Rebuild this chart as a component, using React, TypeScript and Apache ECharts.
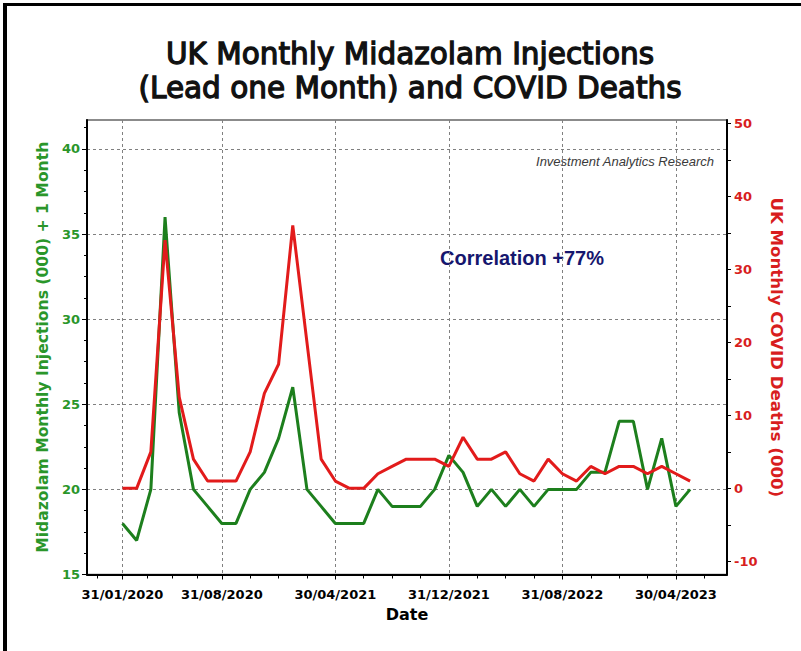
import React, { useEffect, useRef } from "react";
import * as echarts from "echarts";

// Month-end dates, Jan 2020 .. May 2023
const monthEnds: string[] = [
  "31/01/2020", "29/02/2020", "31/03/2020", "30/04/2020", "31/05/2020", "30/06/2020",
  "31/07/2020", "31/08/2020", "30/09/2020", "31/10/2020", "30/11/2020", "31/12/2020",
  "31/01/2021", "28/02/2021", "31/03/2021", "30/04/2021", "31/05/2021", "30/06/2021",
  "31/07/2021", "31/08/2021", "30/09/2021", "31/10/2021", "30/11/2021", "31/12/2021",
  "31/01/2022", "28/02/2022", "31/03/2022", "30/04/2022", "31/05/2022", "30/06/2022",
  "31/07/2022", "31/08/2022", "30/09/2022", "31/10/2022", "30/11/2022", "31/12/2022",
  "31/01/2023", "28/02/2023", "31/03/2023", "30/04/2023", "31/05/2023",
];

// Midazolam injections (000), lead one month
const midazolam: number[] = [
  18, 17, 20, 36, 24.5, 20, 19, 18, 18, 20, 21, 23,
  26, 20, 19, 18, 18, 18, 20, 19, 19, 19, 20, 22,
  21, 19, 20, 19, 20, 19, 20, 20, 20, 21, 21, 24,
  24, 20, 23, 19, 20,
];

// UK monthly COVID deaths (000)
const covidDeaths: number[] = [
  0, 0, 5, 34, 12.5, 4, 1, 1, 1, 5, 13, 17,
  36, 20, 4, 1, 0, 0, 2, 3, 4, 4, 4, 3,
  7, 4, 4, 5, 2, 1, 4, 2, 1, 3, 2, 3,
  3, 2, 3, 2, 1,
];

// Labelled dates (indices into monthEnds)
const xLabelIdx: number[] = [0, 7, 15, 23, 31, 39];
const xMinorIdx: number[] = [-1.75, 1.75, 3.5, 5.25, 9, 11, 13, 17, 19, 21, 25, 27, 29, 33, 35, 37, 41];
const leftTicks: number[] = [15, 20, 25, 30, 35, 40];
const rightLabels: number[] = [-10, 0, 10, 20, 30, 40, 50];
const rightTicks: number[] = [-10, -5, 0, 5, 10, 15, 20, 25, 30, 35, 40, 45, 50];

const GREEN_LINE = "#1d7f1d";
const GREEN_TEXT = "#2a962a";
const RED_LINE = "#e21b1b";
const RED_TEXT = "#d81e1e";

export default function App() {
  const ref = useRef<HTMLDivElement>(null);

  useEffect(() => {
    if (!ref.current) return;
    const chart = echarts.init(ref.current, null, { renderer: "svg" });
    const gridDash = { color: "#808080", width: 1, type: [3, 3] as any };

    chart.setOption({
      animation: false,
      backgroundColor: "#ffffff",
      grid: {
        left: 87,
        right: 74,
        top: 120,
        bottom: 76.5,
        containLabel: false,
        outerBoundsMode: "none",
        show: true,
        borderColor: "#666",
        borderWidth: 1.5,
      },
      graphic: [
        { type: "rect", shape: { x: 4, y: 3, width: 797, height: 3 }, style: { fill: "#000" } },
        { type: "rect", shape: { x: 3, y: 3, width: 4, height: 648 }, style: { fill: "#000" } },
        {
          type: "text",
          x: 410,
          y: 37,
          style: {
            text: "UK Monthly Midazolam Injections\n(Lead one Month) and COVID Deaths",
            textAlign: "center",
            textVerticalAlign: "top",
            fontFamily: "DejaVu Sans",
            fontSize: 29.5,
            lineHeight: 34,
            fill: "#111",
            stroke: "#111",
            lineWidth: 1.3,
          },
        },
        {
          type: "text",
          x: 714,
          y: 161,
          style: {
            text: "Investment Analytics Research",
            textAlign: "right",
            textVerticalAlign: "middle",
            fontFamily: "Liberation Sans",
            fontStyle: "italic",
            fontSize: 13,
            fill: "#3a3a3a",
          },
        },
        {
          type: "text",
          x: 522,
          y: 258,
          style: {
            text: "Correlation +77%",
            textAlign: "center",
            textVerticalAlign: "middle",
            fontFamily: "Liberation Sans",
            fontWeight: "bold",
            fontSize: 20,
            fill: "#16166e",
          },
        },
      ],
      xAxis: [
        {
          type: "value",
          min: -2.5,
          max: 42.6,
          name: "Date",
          nameLocation: "middle",
          nameGap: 32,
          nameTextStyle: { fontFamily: "DejaVu Sans", fontWeight: "bold", fontSize: 16, color: "#000" },
          axisLine: { show: true, onZero: false, lineStyle: { color: "#000", width: 2 } },
          axisTick: { show: true, customValues: xLabelIdx, length: 5, lineStyle: { color: "#000", width: 1 } },
          axisLabel: {
            customValues: xLabelIdx,
            margin: 13,
            fontFamily: "DejaVu Sans",
            fontWeight: "bold",
            fontSize: 13,
            color: "#000",
            formatter: (v: number) => monthEnds[Math.round(v)] ?? "",
          },
          splitLine: { show: true, lineStyle: gridDash },
        },
        {
          type: "value",
          min: -2.5,
          max: 42.6,
          position: "bottom",
          axisLine: { show: false, onZero: false },
          axisLabel: { show: false },
          splitLine: { show: false },
          axisTick: { show: true, customValues: xMinorIdx, length: 4, lineStyle: { color: "#000", width: 1 } },
        },
      ],
      yAxis: [
        {
          type: "value",
          position: "left",
          min: 15,
          max: 41.7,
          interval: 5,
          name: "Midazolam Monthly Injections (000) + 1 Month",
          nameLocation: "middle",
          nameRotate: 90,
          nameGap: 33,
          nameTextStyle: { fontFamily: "DejaVu Sans", fontWeight: "bold", fontSize: 15.6, color: GREEN_TEXT },
          axisLine: { show: true, onZero: false, lineStyle: { color: "#000", width: 2 } },
          axisTick: { show: true, customValues: leftTicks, length: 5, lineStyle: { color: "#000" } },
          minorTick: { show: true, splitNumber: 4, length: 3, lineStyle: { color: "#000" } },
          axisLabel: {
            customValues: leftTicks,
            margin: 7,
            fontFamily: "DejaVu Sans",
            fontWeight: "bold",
            fontSize: 13,
            color: GREEN_TEXT,
          },
          splitLine: { show: true, lineStyle: gridDash },
        },
        {
          type: "value",
          position: "right",
          min: -11.8,
          max: 50.45,
          name: "UK Monthly COVID Deaths (000)",
          nameLocation: "middle",
          nameRotate: -90,
          nameGap: 35,
          nameTextStyle: { fontFamily: "DejaVu Sans", fontWeight: "bold", fontSize: 16.6, color: RED_TEXT },
          axisLine: { show: true, onZero: false, lineStyle: { color: "#000", width: 2 } },
          axisTick: { show: true, customValues: rightTicks, length: 4, lineStyle: { color: "#000" } },
          axisLabel: {
            customValues: rightLabels,
            margin: 7,
            fontFamily: "DejaVu Sans",
            fontWeight: "bold",
            fontSize: 13,
            color: RED_TEXT,
          },
          splitLine: { show: false },
        },
      ],
      series: [
        {
          name: "Midazolam",
          type: "line",
          xAxisIndex: 0,
          yAxisIndex: 0,
          data: midazolam.map((v, i) => [i, v]),
          showSymbol: false,
          symbol: "none",
          lineStyle: { color: GREEN_LINE, width: 3 },
          itemStyle: { color: GREEN_LINE },
        },
        {
          name: "COVID Deaths",
          type: "line",
          xAxisIndex: 0,
          yAxisIndex: 1,
          data: covidDeaths.map((v, i) => [i, v]),
          showSymbol: false,
          symbol: "none",
          lineStyle: { color: RED_LINE, width: 3 },
          itemStyle: { color: RED_LINE },
        },
      ],
    });

    return () => chart.dispose();
  }, []);

  return (
    <div
      ref={ref}
      style={{ position: "fixed", left: 0, top: 0, width: 801, height: 651, background: "#fff" }}
    />
  );
}
